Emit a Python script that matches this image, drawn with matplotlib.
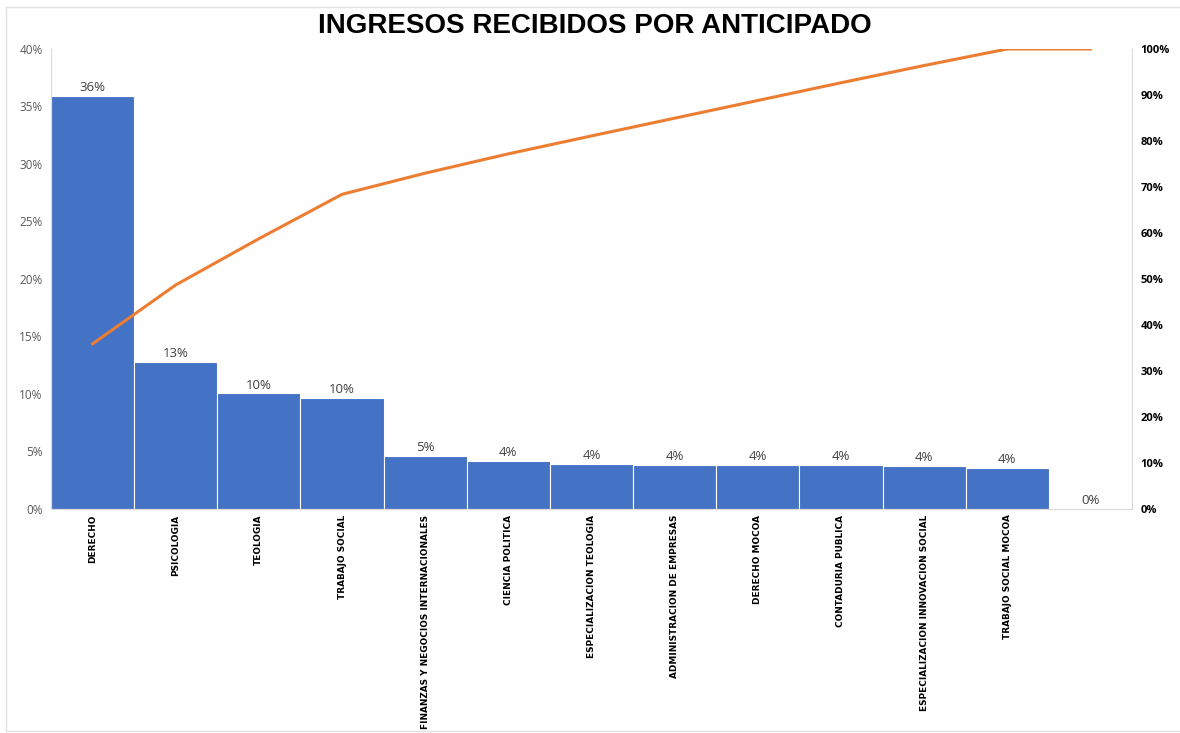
import numpy as np
import matplotlib.pyplot as plt
from matplotlib.ticker import PercentFormatter
from matplotlib.patches import Rectangle

programas = ["DERECHO", "PSICOLOGIA", "TEOLOGIA", "TRABAJO SOCIAL",
             "FINANZAS Y NEGOCIOS INTERNACIONALES", "CIENCIA POLITICA",
             "ESPECIALIZACION TEOLOGIA", "ADMINISTRACION DE EMPRESAS",
             "DERECHO MOCOA", "CONTADURIA PUBLICA",
             "ESPECIALIZACION INNOVACION SOCIAL", "TRABAJO SOCIAL MOCOA", ""]
porcentaje = [35.9, 12.8, 10.05, 9.65, 4.6, 4.2, 3.9, 3.85, 3.85, 3.85, 3.75, 3.6, 0.0]
acumulado = np.cumsum(porcentaje) / sum(porcentaje) * 100

azul = "#4472C4"
naranja = "#ED7D31"
gris = "#D9D9D9"

fig = plt.figure(figsize=(11.8, 7.33), dpi=100)
ax = fig.add_axes([0.0432, 0.3056, 0.9161, 0.6276])
x = np.arange(len(programas))

ax.bar(x, porcentaje, width=1.0, color=azul, edgecolor="white", linewidth=0.8)
for i, v in enumerate(porcentaje):
    ax.text(i, v + 0.15, "{}%".format(int(round(v))), ha="center", va="bottom",
            fontsize=9.5, color="#404040", family="Open Sans")

ax.set_xlim(-0.5, len(programas) - 0.5)
ax.set_ylim(0, 40)
ax.set_yticks(np.arange(0, 41, 5))
ax.yaxis.set_major_formatter(PercentFormatter(decimals=0))
ax.tick_params(axis="y", length=0, labelsize=8.5, labelcolor="#595959", pad=6)
for lbl in ax.get_yticklabels():
    lbl.set_family("Open Sans")
ax.set_xticks(x)
ax.set_xticklabels(programas, rotation=90, fontsize=6.4, fontweight="bold",
                   family="Liberation Sans Narrow", va="top")
ax.tick_params(axis="x", length=0, pad=4)
ax.spines["top"].set_visible(False)
ax.spines["right"].set_visible(False)
ax.spines["left"].set_color(gris)
ax.spines["bottom"].set_color(gris)

ax2 = ax.twinx()
ax2.plot(x, acumulado, color=naranja, linewidth=2.2)
ax2.set_ylim(0, 100)
ax2.set_yticks(np.arange(0, 101, 10))
ax2.yaxis.set_major_formatter(PercentFormatter(decimals=0))
ax2.tick_params(axis="y", length=0, labelsize=8, pad=6)
for lbl in ax2.get_yticklabels():
    lbl.set_fontweight("bold")
    lbl.set_family("Open Sans")
ax2.spines["top"].set_visible(False)
ax2.spines["left"].set_visible(False)
ax2.spines["bottom"].set_visible(False)
ax2.spines["right"].set_color(gris)

fig.text(0.504, 0.965, "INGRESOS RECIBIDOS POR ANTICIPADO", ha="center", va="center",
         fontsize=20, fontweight="bold", family="Liberation Sans")

fig.patches.append(Rectangle((0.005, 0.003), 1.2, 0.988, transform=fig.transFigure,
                             fill=False, edgecolor="#E0E0E0", linewidth=1))

plt.savefig("out.png")
